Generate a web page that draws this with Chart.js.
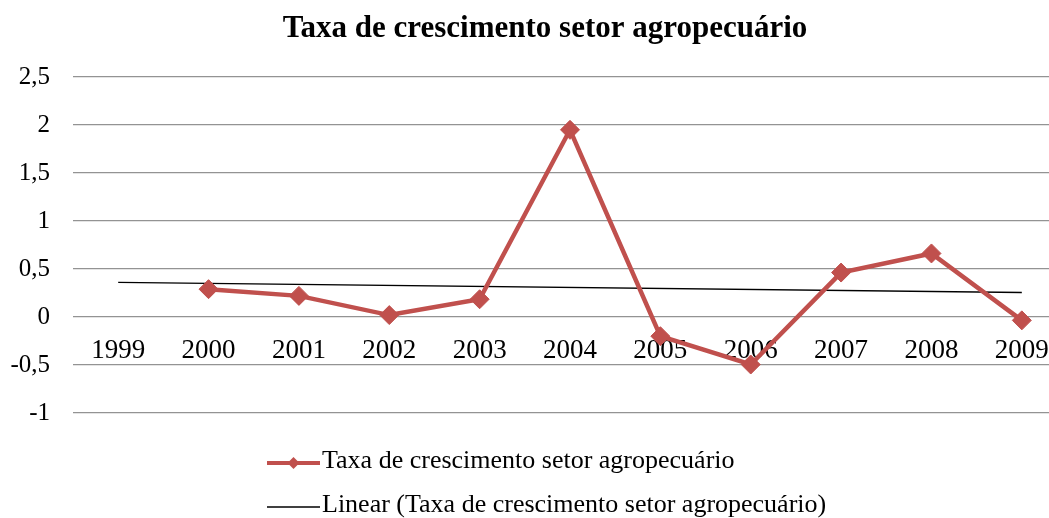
<!DOCTYPE html>
<html lang="pt">
<head>
<meta charset="utf-8">
<title>Taxa de crescimento setor agropecuário</title>
<script src="https://cdn.jsdelivr.net/npm/chart.js@4/dist/chart.umd.min.js"></script>
<style>
  html, body { margin: 0; padding: 0; background: #fff; overflow: hidden; }
  #wrap { width: 1090px; height: 518px; }
</style>
</head>
<body>
<div id="wrap"><canvas id="grafico" width="1090" height="518"></canvas></div>
<script>
// Anos (eixo das categorias)
const anos = ['1999', '2000', '2001', '2002', '2003', '2004', '2005', '2006', '2007', '2008', '2009'];

// Taxa de crescimento anual do setor agropecuário (sem valor em 1999)
const taxa = [null, 0.29, 0.22, 0.02, 0.185, 1.95, -0.2, -0.495, 0.463, 0.662, -0.035];

// Linha de tendência linear: valores nas extremidades do período
const tendencia = [0.36, null, null, null, null, null, null, null, null, null, 0.255];

// Marcas do eixo vertical
const eixoY = { min: -1, max: 2.5, passo: 0.5 };

const titulo = 'Taxa de crescimento setor agropecuário';
const nomeSerie = 'Taxa de crescimento setor agropecuário';
const nomeTendencia = 'Linear (Taxa de crescimento setor agropecuário)';

const FONTE = "'Liberation Serif', 'Times New Roman', serif";
const VERMELHO = '#C0504D';

// Título centrado na largura total do gráfico
const tituloCentrado = {
  id: 'tituloCentrado',
  afterDraw(chart) {
    const ctx = chart.ctx;
    ctx.save();
    ctx.font = 'bold 31px ' + FONTE;
    ctx.fillStyle = '#000';
    ctx.textAlign = 'center';
    ctx.textBaseline = 'alphabetic';
    ctx.fillText(titulo, chart.width / 2, 37);
    ctx.restore();
  }
};

// Legenda desenhada em duas linhas, centrada abaixo do gráfico
const legendaEmpilhada = {
  id: 'legendaEmpilhada',
  afterDraw(chart) {
    const ctx = chart.ctx;
    const itens = [
      { texto: nomeSerie, cor: VERMELHO, largura: 4, marcador: true, y: 463 },
      { texto: nomeTendencia, cor: '#000', largura: 1.3, marcador: false, y: 507 }
    ];
    const x0 = 267, x1 = 320;
    ctx.save();
    ctx.font = '26px ' + FONTE;
    ctx.textBaseline = 'alphabetic';
    ctx.textAlign = 'left';
    itens.forEach(it => {
      ctx.strokeStyle = it.cor;
      ctx.lineWidth = it.largura;
      ctx.beginPath();
      ctx.moveTo(x0, it.y);
      ctx.lineTo(x1, it.y);
      ctx.stroke();
      if (it.marcador) {
        const cx = (x0 + x1) / 2, r = 6;
        ctx.fillStyle = it.cor;
        ctx.beginPath();
        ctx.moveTo(cx, it.y - r);
        ctx.lineTo(cx + r, it.y);
        ctx.lineTo(cx, it.y + r);
        ctx.lineTo(cx - r, it.y);
        ctx.closePath();
        ctx.fill();
      }
      ctx.fillStyle = '#000';
      ctx.fillText(it.texto, 322, it.y + 5);
    });
    ctx.restore();
  }
};

new Chart(document.getElementById('grafico'), {
  type: 'line',
  data: {
    labels: anos,
    datasets: [
      {
        label: nomeSerie,
        data: taxa,
        borderColor: VERMELHO,
        backgroundColor: VERMELHO,
        borderWidth: 4.5,
        pointStyle: 'rectRot',
        pointRadius: 9.5,
        pointBorderWidth: 1,
        pointBackgroundColor: VERMELHO,
        pointBorderColor: VERMELHO,
        tension: 0,
        order: 0
      },
      {
        label: nomeTendencia,
        data: tendencia,
        borderColor: '#000',
        borderWidth: 1.3,
        pointRadius: 0,
        spanGaps: true,
        tension: 0,
        order: 1
      }
    ]
  },
  options: {
    responsive: false,
    animation: false,
    devicePixelRatio: 1,
    layout: { padding: { top: 77, right: 23, bottom: 105, left: 0 } },
    plugins: {
      legend: { display: false },
      tooltip: { enabled: false },
      title: { display: false }
    },
    scales: {
      x: {
        position: { y: 0 },
        offset: true,
        grid: { display: false, drawTicks: false },
        border: { display: false },
        ticks: {
          color: '#000',
          font: { family: FONTE, size: 27 },
          padding: 18,
          maxRotation: 0,
          autoSkip: false
        }
      },
      y: {
        min: eixoY.min,
        max: eixoY.max,
        afterFit(scale) { scale.width = 73; },
        grid: { color: '#939393', lineWidth: 1.3, drawTicks: false },
        border: { display: false },
        ticks: {
          stepSize: eixoY.passo,
          color: '#000',
          padding: 23,
          font: { family: FONTE, size: 25 },
          callback: v => String(v).replace('.', ',')
        }
      }
    }
  },
  plugins: [tituloCentrado, legendaEmpilhada]
});
</script>
</body>
</html>
